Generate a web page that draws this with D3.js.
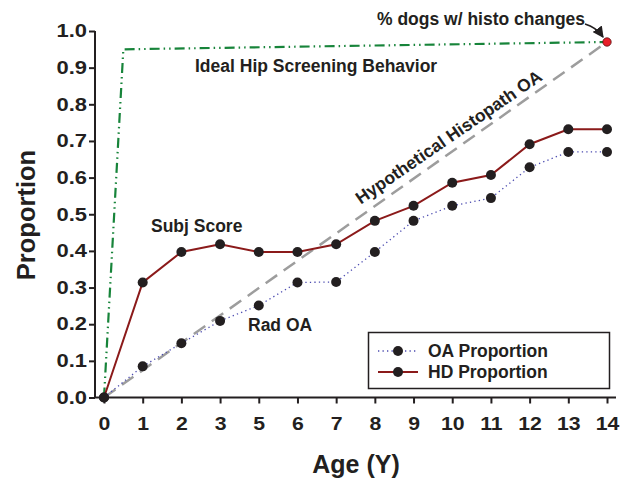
<!DOCTYPE html>
<html>
<head>
<meta charset="utf-8">
<script src="https://cdn.jsdelivr.net/npm/d3@7"></script>
<style>
  html, body { margin: 0; padding: 0; background: #fff; }
  svg { display: block; }
  text { font-family: "Liberation Sans", Arial, Helvetica, sans-serif; font-weight: bold; fill: #231f20; }
</style>
</head>
<body>
<svg id="chart" width="628" height="481"></svg>
<script>
// Age groups (no 4-year group) and observed proportions
const ages = ["0", "1", "2", "3", "5", "6", "7", "8", "9", "10", "11", "12", "13", "14"];
const oaProportion = [0, 0.085, 0.148, 0.209, 0.251, 0.314, 0.315, 0.397, 0.482, 0.523, 0.544, 0.628, 0.670, 0.670];
const hdProportion = [0, 0.314, 0.397, 0.418, 0.397, 0.397, 0.418, 0.482, 0.523, 0.586, 0.607, 0.691, 0.732, 0.732];

// Reference lines, given as [position along the age axis (group index), proportion]
const histoChangeLevel = 0.97;
const hypotheticalHistopath = [[0, 0], [13, histoChangeLevel]];
const idealScreening = [[0, 0], [0.5, 0.95], [13, histoChangeLevel]];

const yTicks = [0, 0.1, 0.2, 0.3, 0.4, 0.5, 0.6, 0.7, 0.8, 0.9, 1.0];

const svg = d3.select("#chart");
const ink = "#231f20";

const x = d3.scalePoint().domain(ages).range([104, 607]);
const xi = d3.scaleLinear().domain([0, ages.length - 1]).range(x.range());
const y = d3.scaleLinear().domain([0, 1]).range([397.5, 31]);

// Axes
const yAxis = svg.append("g")
  .attr("transform", "translate(95,0)")
  .call(d3.axisLeft(y).tickValues(yTicks).tickFormat(d3.format(".1f")).tickSize(6).tickPadding(8).tickSizeOuter(0));
const xAxis = svg.append("g")
  .attr("transform", "translate(0,397.5)")
  .call(d3.axisBottom(x).tickSize(6).tickPadding(14).tickSizeOuter(0));

[yAxis, xAxis].forEach(g => {
  g.select(".domain").remove();
  g.selectAll(".tick line").attr("stroke", ink).attr("stroke-width", 2);
  g.selectAll(".tick text").attr("fill", ink).style("font-size", "18px");
});
yAxis.selectAll(".tick text").attr("x", -8 / 1.22).attr("transform", "scale(1.22,1)");
xAxis.selectAll(".tick text").attr("transform", "scale(1.18,1)");

svg.append("path")
  .attr("d", `M95,${y(1)}V${y(0)}H616`)
  .attr("fill", "none").attr("stroke", ink).attr("stroke-width", 2);

// Axis titles
svg.append("text").attr("x", 356).attr("y", 473).attr("text-anchor", "middle")
  .style("font-size", "25px").text("Age (Y)");
svg.append("text").attr("transform", "translate(35,215) rotate(-90)").attr("text-anchor", "middle")
  .style("font-size", "25.5px").text("Proportion");

const lineIdx = d3.line().x(d => xi(d[0])).y(d => y(d[1]));

// Hypothetical histopathology line
svg.append("path").datum(hypotheticalHistopath)
  .attr("d", lineIdx).attr("fill", "none")
  .attr("stroke", "#9d9d9d").attr("stroke-width", 2.5).attr("stroke-dasharray", "14,8");

// Ideal screening behaviour line
svg.append("path").datum(idealScreening)
  .attr("d", lineIdx).attr("fill", "none")
  .attr("stroke", "#17843a").attr("stroke-width", 2.2).attr("stroke-dasharray", "10,4,1.5,4,1.5,4");

// Observed series
const line = d3.line().x((d, i) => x(ages[i])).y(d => y(d));

svg.append("path").datum(oaProportion)
  .attr("d", line).attr("fill", "none")
  .attr("stroke", "#4b4bb0").attr("stroke-width", 1.3).attr("stroke-dasharray", "1.3,3.2");
svg.append("path").datum(hdProportion)
  .attr("d", line).attr("fill", "none")
  .attr("stroke", "#8b1a1a").attr("stroke-width", 2);

[oaProportion, hdProportion].forEach(series => {
  svg.append("g").selectAll("circle").data(series).join("circle")
    .attr("cx", (d, i) => x(ages[i])).attr("cy", d => y(d)).attr("r", 5)
    .attr("fill", ink);
});

// Histopathology end point
svg.append("circle")
  .attr("cx", xi(13)).attr("cy", y(histoChangeLevel)).attr("r", 4.2)
  .attr("fill", "#e8202a").attr("stroke", "#5a1010").attr("stroke-width", 0.8);

// Annotations
const note = (tx, ty, s) => svg.append("text").attr("x", tx).attr("y", ty).style("font-size", "17.5px").text(s);
note(195, 72, "Ideal Hip Screening Behavior");
note(151, 232, "Subj Score");
note(248, 331, "Rad OA");
note(377, 25, "% dogs w/ histo changes");

svg.append("text")
  .attr("transform", "translate(452,142) rotate(-34.5)")
  .attr("text-anchor", "middle").style("font-size", "17.5px")
  .text("Hypothetical Histopath OA");

// Arrow to the end point
svg.append("defs").append("marker")
  .attr("id", "arrowhead").attr("viewBox", "0 0 10 10")
  .attr("refX", 9).attr("refY", 5).attr("markerWidth", 7).attr("markerHeight", 7)
  .attr("orient", "auto")
  .append("path").attr("d", "M0,0L10,5L0,10Z").attr("fill", ink);
svg.append("path")
  .attr("d", "M585,24 Q596,27 603,37")
  .attr("fill", "none").attr("stroke", ink).attr("stroke-width", 1.6)
  .attr("marker-end", "url(#arrowhead)");

// Legend
const legend = svg.append("g");
legend.append("rect").attr("x", 368.5).attr("y", 332.5).attr("width", 241).attr("height", 56)
  .attr("fill", "#fff").attr("stroke", ink).attr("stroke-width", 1.5);
const entries = [
  { label: "OA Proportion", color: "#4b4bb0", width: 1.3, dash: "1.3,3.2", yy: 351 },
  { label: "HD Proportion", color: "#8b1a1a", width: 2, dash: null, yy: 372 }
];
entries.forEach(e => {
  legend.append("line").attr("x1", 378).attr("x2", 418).attr("y1", e.yy).attr("y2", e.yy)
    .attr("stroke", e.color).attr("stroke-width", e.width).attr("stroke-dasharray", e.dash);
  legend.append("circle").attr("cx", 398).attr("cy", e.yy).attr("r", 5).attr("fill", ink);
  legend.append("text").attr("x", 428).attr("y", e.yy + 6).style("font-size", "17.5px").text(e.label);
});
</script>
</body>
</html>
